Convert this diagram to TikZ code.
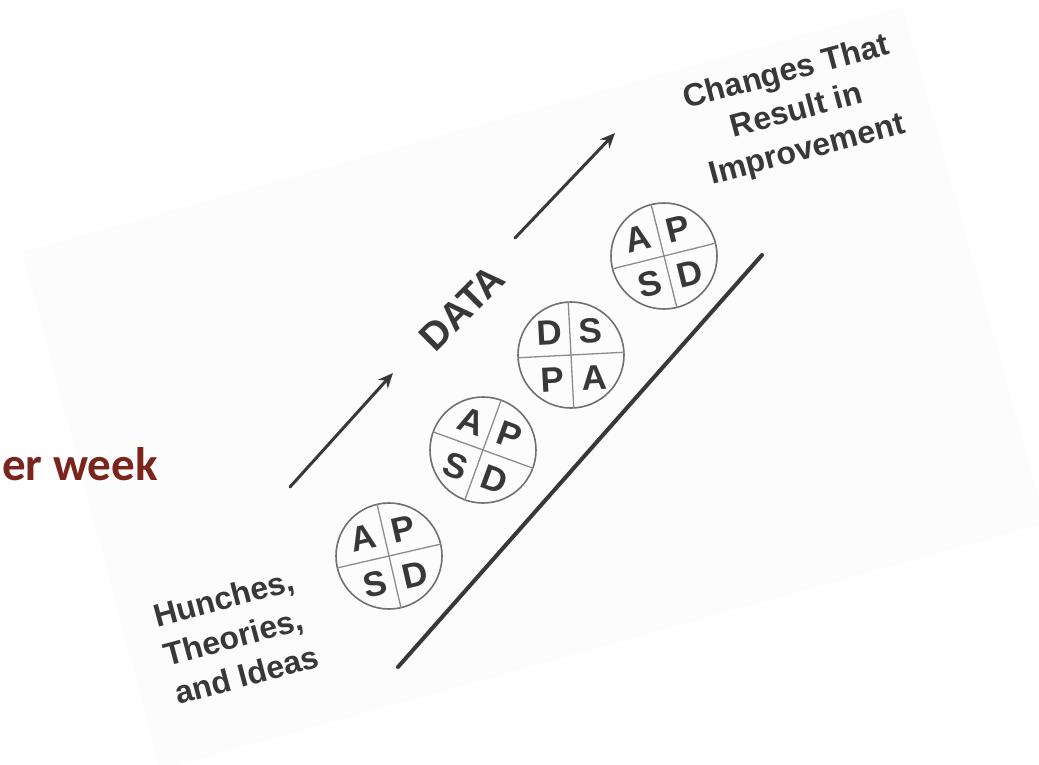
\documentclass[tikz,border=0pt]{standalone}
\usepackage{fontspec}
\setmainfont{Liberation Sans}
\newfontfamily\slidefont{Carlito}
\usetikzlibrary{arrows.meta}
\definecolor{ink}{HTML}{383838}
\definecolor{paper}{HTML}{FCFCFC}
\definecolor{ringgray}{HTML}{707070}
\definecolor{divgray}{HTML}{8C8C8C}
\definecolor{titlered}{RGB}{122,36,28}
\tikzset{
  lbl/.style={text=ink, inner sep=0pt, font=\bfseries\fontsize{32}{40}\selectfont},
  pdsa/.style={circle, draw=ringgray, line width=1.6pt, minimum size=106pt, inner sep=0pt},
  divider/.style={draw=divgray, line width=1.3pt},
  letter/.style={text=ink, inner sep=0pt, transform shape, font=\bfseries\fontsize{35}{35}\selectfont},
  arr/.style={draw=ink, line width=3pt, line cap=round, -{Stealth[length=15pt,width=13pt]}},
  ramp/.style={draw=ink, line width=4pt, line cap=round},
}
\begin{document}
\begin{tikzpicture}[x=1pt,y=-1pt]
\useasboundingbox (0,0) rectangle (1039,764);
\clip (0,0) rectangle (1039,764);
% rotated scanned sheet
\fill[paper] (22,252) -- (903,7) -- (1046,523) -- (160,770) -- cycle;

% slide title fragment
\node[anchor=base east, inner sep=0pt, text=titlered,
      font=\slidefont\bfseries\fontsize{47}{50}\selectfont] (title) at (158,480) {er week};

% arrows
\coordinate (a1s) at (290,487);
\coordinate (a1e) at (393,373);
\coordinate (a2s) at (515,238);
\coordinate (a2e) at (615,133);
\draw[arr] (a1s) -- (a1e);
\draw[arr] (a2s) -- (a2e);

% DATA
\node[lbl, rotate=45, font=\bfseries\fontsize{39}{39}\selectfont] (data) at (462,308) {DATA};

% labels
\node[lbl, rotate=15, align=center] (result) at (797,112) {Changes That\\Result in\\Improvement};
\node[lbl, rotate=15, align=left] (hunch) at (236,636) {Hunches,\\Theories,\\and Ideas};

% ramp
\coordinate (r1) at (398,667);
\coordinate (r2) at (762,255);
\draw[ramp] (r1) -- (r2);

% PDSA circles
\node[pdsa] (c1) at (389,556) {};
\begin{scope}[shift={(c1.center)}, rotate=13]
  \draw[divider] (-53,0) -- (53,0) (0,-53) -- (0,53);
  \node[letter] (c1a) at (-21,-23) {A};
  \node[letter] (c1p) at (20,-23) {P};
  \node[letter] (c1s) at (-20,24) {S};
  \node[letter] (c1d) at (21,24) {D};
\end{scope}

\node[pdsa] (c2) at (483,450) {};
\begin{scope}[shift={(c2.center)}, rotate=-20]
  \draw[divider] (-53,0) -- (53,0) (0,-53) -- (0,53);
  \node[letter] (c2a) at (-21,-23) {A};
  \node[letter] (c2p) at (20,-23) {P};
  \node[letter] (c2s) at (-20,24) {S};
  \node[letter] (c2d) at (21,24) {D};
\end{scope}

\node[pdsa] (c3) at (571,355) {};
\begin{scope}[shift={(c3.center)}, rotate=3]
  \draw[divider] (-53,0) -- (53,0) (0,-53) -- (0,53);
  \node[letter] (c3d) at (-20,-23) {D};
  \node[letter] (c3s) at (21,-23) {S};
  \node[letter] (c3p) at (-20,24) {P};
  \node[letter] (c3a) at (22,24) {A};
\end{scope}

\node[pdsa] (c4) at (664,256) {};
\begin{scope}[shift={(c4.center)}, rotate=14]
  \draw[divider] (-53,0) -- (53,0) (0,-53) -- (0,53);
  \node[letter] (c4a) at (-21,-23) {A};
  \node[letter] (c4p) at (20,-23) {P};
  \node[letter] (c4s) at (-20,24) {S};
  \node[letter] (c4d) at (21,24) {D};
\end{scope}
\end{tikzpicture}
\end{document}
